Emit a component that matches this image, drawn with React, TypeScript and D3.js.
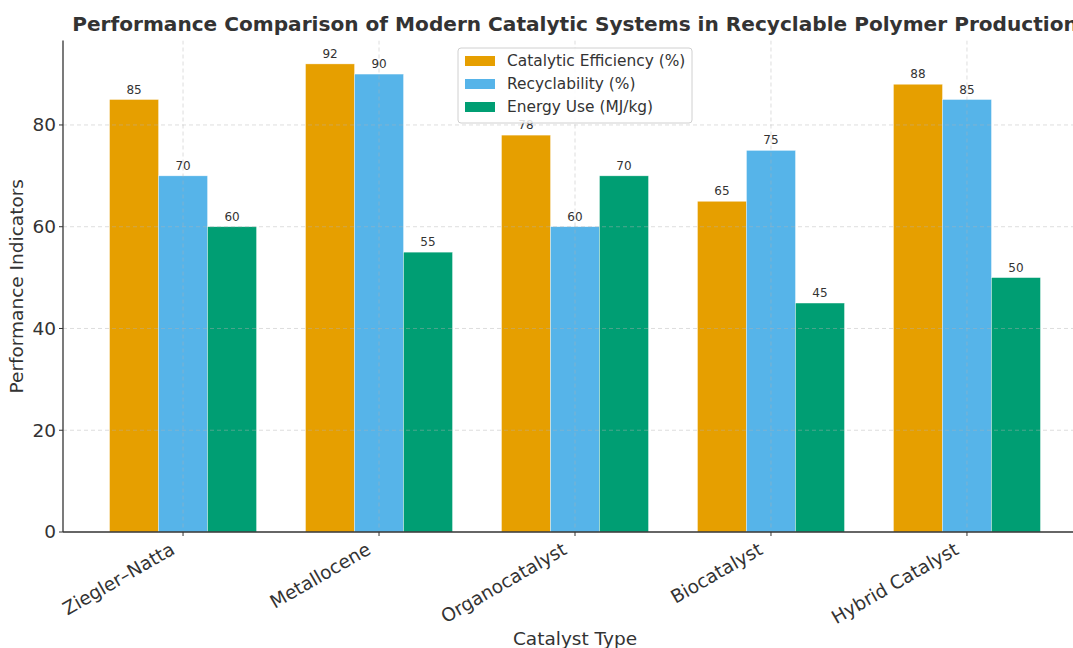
import React from "react";
import * as d3 from "d3";

const categories = ["Ziegler–Natta", "Metallocene", "Organocatalyst", "Biocatalyst", "Hybrid Catalyst"];
const seriesNames = ["Catalytic Efficiency (%)", "Recyclability (%)", "Energy Use (MJ/kg)"];
const efficiency = [85, 92, 78, 65, 88];
const recyclability = [70, 90, 60, 75, 85];
const energyUse = [60, 55, 70, 45, 50];
const yTicks = [0, 20, 40, 60, 80];
const colors = ["#E69F00", "#56B4E9", "#009E73"];

const W = 1073;
const H = 648;
const font = "DejaVu Sans, sans-serif";
const textColor = "#333333";

export default function App() {
  const series = [efficiency, recyclability, energyUse];
  const left = 63;
  const bottom = 532;
  const top = 40.5;
  const x = d3.scaleLinear().domain([-0.6125, 4.6125]).range([left, 1087]);
  const y = d3.scaleLinear().domain([0, 96.6]).range([bottom, top]);
  const bw = 0.25;

  return (
    <svg width={W} height={H} style={{ position: "absolute", left: 0, top: 0, background: "#fff" }} fontFamily={font}>
      <defs>
        <clipPath id="plot">
          <rect x={left} y={top} width={W - left} height={bottom - top} />
        </clipPath>
      </defs>
      <rect width={W} height={H} fill="#fff" />
      <g>
        {series.map((vals, si) =>
          vals.map((v, ci) => {
            const x0 = x(ci + (si - 1) * bw - bw / 2);
            const x1 = x(ci + (si - 1) * bw + bw / 2);
            return (
              <rect key={`${si}-${ci}`} x={x0} y={y(v)} width={x1 - x0} height={bottom - y(v)}
                fill={colors[si]} stroke="#ffffff" strokeWidth={0.6} strokeOpacity={0.6} />
            );
          })
        )}
      </g>
      <g clipPath="url(#plot)" stroke="#b0b0b0" strokeOpacity={0.55} strokeDasharray="4,3" strokeWidth={0.8}>
        {yTicks.slice(1).map((t) => (
          <line key={`gy${t}`} x1={left} x2={W} y1={y(t)} y2={y(t)} />
        ))}
        {categories.map((c, i) => (
          <line key={`gx${i}`} x1={x(i)} x2={x(i)} y1={top} y2={bottom} />
        ))}
      </g>
      <g fontSize={12} fill={textColor} textAnchor="middle">
        {series.map((vals, si) =>
          vals.map((v, ci) => (
            <text key={`l${si}-${ci}`} x={x(ci + (si - 1) * bw)} y={y(v) - 6}>{v}</text>
          ))
        )}
      </g>
      <line x1={left} x2={left} y1={top} y2={bottom} stroke="#333" strokeWidth={1.3} />
      <line x1={left} x2={W} y1={bottom} y2={bottom} stroke="#333" strokeWidth={1.3} />
      {categories.map((c, i) => (
        <line key={`tx${i}`} x1={x(i)} x2={x(i)} y1={bottom} y2={bottom + 4} stroke="#333" strokeWidth={1} />
      ))}
      {yTicks.map((t) => (
        <g key={`ty${t}`}>
          <line x1={left - 4} x2={left} y1={y(t)} y2={y(t)} stroke="#333" strokeWidth={1} />
          <text x={left - 7} y={y(t)} dy="0.35em" textAnchor="end" fontSize={18.5} fill={textColor}>{t}</text>
        </g>
      ))}
      {categories.map((c, i) => (
        <text key={`xl${i}`} transform={`translate(${x(i) - 7},${bottom + 21}) rotate(-30)`} textAnchor="end"
          fontSize={18.5} fill={textColor}>{c}</text>
      ))}
      <text x={575} y={645} textAnchor="middle" fontSize={18.5} fill={textColor}>Catalyst Type</text>
      <text transform={`translate(23,${(top + bottom) / 2}) rotate(-90)`} textAnchor="middle" fontSize={18.5} fill={textColor}>
        Performance Indicators
      </text>
      <text x={575} y={31} textAnchor="middle" fontSize={20.1} fontWeight="bold" fill={textColor}>
        Performance Comparison of Modern Catalytic Systems in Recyclable Polymer Production
      </text>
      <g>
        <rect x={458} y={48} width={234} height={75} rx={3} fill="#fff" fillOpacity={0.85} stroke="#d0d0d0" strokeWidth={1} />
        {seriesNames.map((s, i) => (
          <g key={`lg${i}`}>
            <rect x={465} y={56 + i * 23} width={30} height={10} fill={colors[i]} />
            <text x={507} y={61 + i * 23} dy="0.35em" fontSize={15.4} fill={textColor}>{s}</text>
          </g>
        ))}
      </g>
    </svg>
  );
}
